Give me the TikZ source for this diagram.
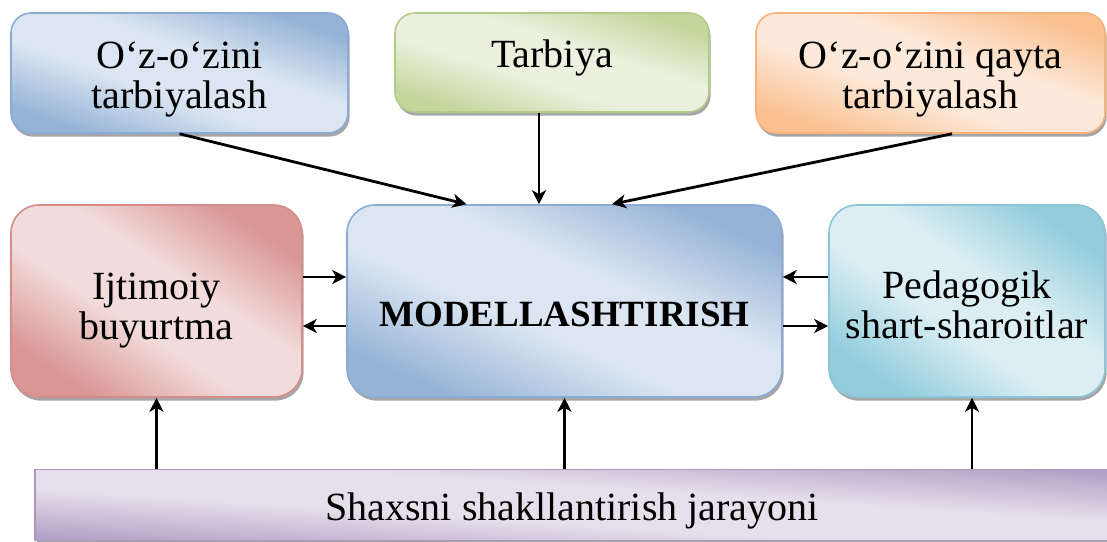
\documentclass[tikz,border=0pt]{standalone}
\usepackage{fontspec}
\setmainfont{Liberation Serif}
\usetikzlibrary{arrows.meta,shadows}
\definecolor{blueline}{HTML}{8CAAD6}
\definecolor{bluedark}{HTML}{95B3D7}
\definecolor{bluelight}{HTML}{DCE6F2}
\definecolor{greenline}{HTML}{B3CB8A}
\definecolor{greendark}{HTML}{C3D69B}
\definecolor{greenlight}{HTML}{EBF1DE}
\definecolor{orangeline}{HTML}{F9B27C}
\definecolor{orangedark}{HTML}{FAC090}
\definecolor{orangelight}{HTML}{FDE9D9}
\definecolor{redline}{HTML}{D58C8A}
\definecolor{reddark}{HTML}{D99694}
\definecolor{redlight}{HTML}{F2DCDB}
\definecolor{tealline}{HTML}{8AC6D6}
\definecolor{tealdark}{HTML}{93CDDD}
\definecolor{teallight}{HTML}{DAEEF3}
\definecolor{purpleline}{HTML}{AA98C1}
\definecolor{purpledark}{HTML}{B3A2C7}
\definecolor{purplelight}{HTML}{E6E0EC}
% diagonal two-tone fills
\newcommand\mkshade[3]{\pgfdeclareverticalshading{#1}{100bp}{color(0bp)=(#2); color(25bp)=(#2); color(43bp)=(#3); color(57bp)=(#3); color(75bp)=(#2); color(100bp)=(#2)}}
\mkshade{blueshade}{bluedark}{bluelight}
\mkshade{greenshade}{greendark}{greenlight}
\mkshade{orangeshade}{orangedark}{orangelight}
\mkshade{redshade}{reddark}{redlight}
\mkshade{tealshade}{tealdark}{teallight}
\mkshade{purpleshade}{purpledark}{purplelight}
% lowered text that keeps its own size
\newcommand\dropby[2]{\raisebox{-#1}[\height][\depth]{#2}}
\newcommand\twolines[3]{\dropby{#1}{\begin{tabular}{@{}c@{}}#2\\#3\end{tabular}}}
\begin{document}
\begin{tikzpicture}[x=0.5pt,y=-0.5pt,thick,
                    box/.style = {rounded corners=10pt,
                                align=center,
                                inner sep=0pt,
                                font=\rmfamily\fontsize{20}{20}\selectfont,
                                drop shadow={shadow xshift=0.8pt,shadow yshift=-1.8pt,fill=black!35,opacity=1}},
                    tint/.style n args = {3}{draw=#1,shade,shading=#2,shading angle=#3},
                    arr/.style = {-{Stealth[length=7pt,width=7pt,inset=2pt]},line width=1.4pt}]
                    \useasboundingbox (0,0) rectangle (1107,541);
                    % Upper row
                    \node[box,tint={blueline}{blueshade}{-19.6},minimum width=168.5pt,minimum height=60pt] (self) at (179.5,73) {\twolines{3.5pt}{O‘z-o‘zini}{tarbiyalash}};
                    \node[box,tint={greenline}{greenshade}{-17.5},minimum width=157pt,minimum height=49.5pt] (tarb) at (552,62.5) {\dropby{-2.5pt}{Tarbiya}};
                    \node[box,tint={orangeline}{orangeshade}{-19},minimum width=174.5pt,minimum height=60pt] (qayta) at (930.5,73) {\twolines{3.5pt}{O‘z-o‘zini qayta}{tarbiyalash}};
                    % Middle row
                    \node[box,rounded corners=14pt,tint={redline}{redshade}{-33.4},minimum width=145.5pt,minimum height=96pt] (ijt) at (156.5,301) {\twolines{5pt}{Ijtimoiy}{buyurtma}};
                    \node[box,rounded corners=14pt,tint={blueline}{blueshade}{-23.8},minimum width=217.5pt,minimum height=96pt,font=\rmfamily\fontsize{18.5}{20}\selectfont\bfseries] (model) at (564.5,301) {\dropby{6.5pt}{MODELLASHTIRISH}};
                    \node[box,rounded corners=14pt,tint={tealline}{tealshade}{-34.8},minimum width=138pt,minimum height=96pt] (ped) at (967,301) {\twolines{4.5pt}{Pedagogik}{shart-sharoitlar}};
                    % Lower bar
                    \node[box,sharp corners,tint={purpleline}{purpleshade}{-3.8},minimum width=537pt,minimum height=35.5pt] (jar) at (572,505) {\dropby{3pt}{Shaxsni shakllantirish jarayoni}};
                    % Arrows into the model
                    \draw[arr] (self.south) -- ([xshift=-49pt]model.north);
                    \draw[arr] ([xshift=-6.5pt]tarb.south) -- ([xshift=-12.75pt]model.north);
                    \draw[arr] ([xshift=10.75pt]qayta.south) -- ([xshift=23.75pt]model.north);
                    % Two-way arrows
                    \draw[arr] ([yshift=12pt]ijt.east) -- ([yshift=12pt]model.west);
                    \draw[arr] ([yshift=-12.5pt]model.west) -- ([yshift=-12.5pt]ijt.east);
                    \draw[arr] ([yshift=12pt]ped.west) -- ([yshift=12pt]model.east);
                    \draw[arr] ([yshift=-12.5pt]model.east) -- ([yshift=-12.5pt]ped.west);
                    % Arrows up from the bar
                    \foreach \n/\s in {ijt/0pt,model/0pt,ped/2.5pt}
                        \draw[arr] ([xshift=\s]\n.south |- jar.north) -- ([xshift=\s]\n.south);
                \end{tikzpicture}
\end{document}
